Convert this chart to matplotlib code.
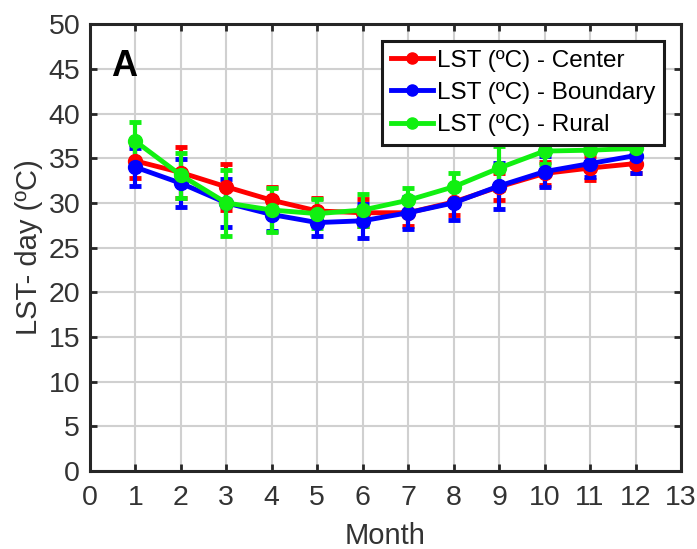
import matplotlib
matplotlib.use("Agg")
import matplotlib.pyplot as plt
from matplotlib.lines import Line2D

plt.rcParams['font.family'] = ['Liberation Sans', 'DejaVu Sans']

months = [1, 2, 3, 4, 5, 6, 7, 8, 9, 10, 11, 12]

center = [34.7, 33.4, 31.8, 30.3, 29.1, 28.9, 28.9, 30.1, 31.8, 33.3, 33.9, 34.4]
center_err = [1.9, 2.8, 2.6, 1.5, 1.5, 1.5, 1.5, 1.5, 1.5, 1.3, 1.3, 1.0]
boundary = [34.0, 32.2, 30.0, 28.7, 27.8, 28.0, 28.9, 30.0, 31.9, 33.5, 34.4, 35.3]
boundary_err = [2.1, 2.7, 2.7, 1.8, 1.5, 1.9, 1.8, 1.9, 2.6, 1.7, 1.5, 2.0]
rural = [36.9, 33.1, 30.0, 29.2, 28.8, 29.2, 30.3, 31.8, 33.9, 35.8, 35.9, 36.1]
rural_err = [2.1, 2.5, 3.7, 2.5, 1.6, 1.8, 1.4, 1.6, 2.5, 1.5, 1.5, 1.5]

labels = ['LST (ºC) - Center', 'LST (ºC) - Boundary', 'LST (ºC) - Rural']
colors = ['#ff0000', '#0000ff', '#11f011']

fig = plt.figure(figsize=(6.97, 5.49), dpi=100)
ax = fig.add_axes([0.129, 0.142, 0.848, 0.814])

handles = []
for y, e, c, lab in zip([center, boundary, rural], [center_err, boundary_err, rural_err], colors, labels):
    ax.errorbar(months, y, yerr=e, color=c, lw=3.5, marker='o', ms=10,
                capsize=4.5, capthick=3.5, elinewidth=3)
    handles.append(Line2D([], [], color=c, lw=3.5, marker='o', ms=8, label=lab))

ax.set_xlim(0, 13)
ax.set_ylim(0, 50)
ax.set_xticks(range(0, 14))
ax.set_yticks(range(0, 51, 5))
ax.grid(True, color='#d0d0d0', lw=1.5)
ax.set_axisbelow(True)
ax.tick_params(direction='in', length=5, width=2, labelsize=20.5, colors='#262626',
               labelcolor='#333333', top=True, right=True, pad=7)
ax.tick_params(axis='x', pad=10)
for s in ax.spines.values():
    s.set_linewidth(2.2)
    s.set_color('#262626')

ax.set_xlabel('Month', fontsize=21, color='#333333', labelpad=8)
ax.set_ylabel('LST- day (ºC)', fontsize=21, color='#333333', labelpad=4)
ax.text(0.035, 0.905, 'A', transform=ax.transAxes, fontsize=26, fontweight='bold', va='center')

leg = ax.legend(handles=handles, loc='upper right', fontsize=17.5, fancybox=False, framealpha=1,
                edgecolor='#1a1a1a', handlelength=1.75, handletextpad=0.15,
                borderpad=0.35, labelspacing=0.42, borderaxespad=0.7)
leg.get_frame().set_linewidth(2.2)

fig.savefig('out.png', dpi=100)
